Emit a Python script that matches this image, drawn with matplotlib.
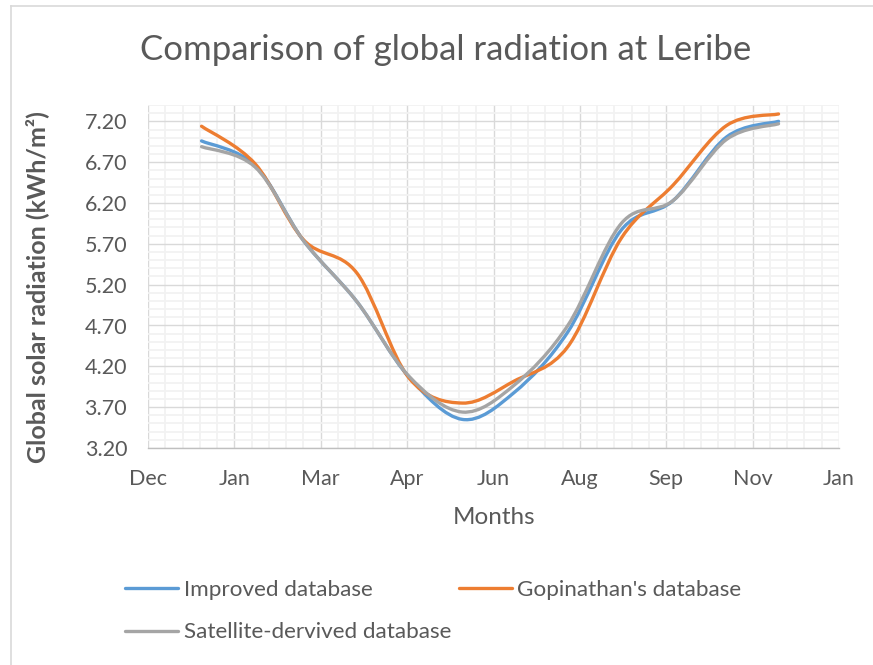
import datetime as dt
import matplotlib
matplotlib.use("Agg")
import matplotlib.pyplot as plt
import matplotlib.dates as mdates
from matplotlib.path import Path
from matplotlib.patches import PathPatch
from matplotlib.lines import Line2D

# ---- data ----
months = [dt.datetime(2021, m, 1) for m in range(1, 13)]
improved = [6.96, 6.66, 5.74, 4.99, 4.07, 3.55, 3.88, 4.62, 5.87, 6.23, 7.01, 7.20]
gopinathan = [7.14, 6.68, 5.75, 5.34, 4.06, 3.75, 4.02, 4.44, 5.77, 6.42, 7.15, 7.29]
satellite = [6.89, 6.64, 5.74, 4.99, 4.08, 3.64, 3.97, 4.70, 5.95, 6.23, 6.98, 7.17]
series_names = ["Improved database", "Gopinathan's database", "Satellite-dervived database"]
colors = ["#5B9BD5", "#ED7D31", "#A5A5A5"]
y_ticks = [3.20, 3.70, 4.20, 4.70, 5.20, 5.70, 6.20, 6.70, 7.20]
axis_start = dt.datetime(2020, 12, 1)
tick_step_days = 50

FONT = "Lato"
TXT = "#595959"

fig = plt.figure(figsize=(8.73, 6.65), dpi=100)
ax = fig.add_axes([148 / 873, 1 - 448 / 665, (839 - 148) / 873, (448 - 105) / 665])

# chart-area border (left and top only visible)
fig.add_artist(Line2D([10.5 / 873, 10.5 / 873], [0, 1 - 6 / 665], transform=fig.transFigure,
                      color="#D9D9D9", lw=1.2))
fig.add_artist(Line2D([10.5 / 873, 1], [1 - 6 / 665, 1 - 6 / 665], transform=fig.transFigure,
                      color="#D9D9D9", lw=1.2))


def smooth_path(xs, ys):
    pts = list(zip(xs, ys))
    n = len(pts)
    verts = [pts[0]]
    codes = [Path.MOVETO]
    for i in range(n - 1):
        p0 = pts[i - 1] if i > 0 else pts[i]
        p1 = pts[i]
        p2 = pts[i + 1]
        p3 = pts[i + 2] if i + 2 < n else pts[i + 1]
        c1 = (p1[0] + (p2[0] - p0[0]) / 6, p1[1] + (p2[1] - p0[1]) / 6)
        c2 = (p2[0] - (p3[0] - p1[0]) / 6, p2[1] - (p3[1] - p1[1]) / 6)
        verts += [c1, c2, p2]
        codes += [Path.CURVE4] * 3
    return Path(verts, codes)


xnum = mdates.date2num(months)
handles = []
for vals, col, name in zip([improved, gopinathan, satellite], colors, series_names):
    patch = PathPatch(smooth_path(xnum, vals), facecolor="none", edgecolor=col, lw=2.4,
                      capstyle="round", joinstyle="round", zorder=3)
    ax.add_patch(patch)
    handles.append(Line2D([], [], color=col, lw=2.4, solid_capstyle="round", label=name))

ticks = [axis_start + dt.timedelta(days=tick_step_days * k) for k in range(9)]
ax.set_xlim(mdates.date2num(ticks[0]), mdates.date2num(ticks[-1]))
ax.set_ylim(3.2, 7.4)
ax.set_xticks(mdates.date2num(ticks))
ax.xaxis.set_major_formatter(mdates.DateFormatter("%b"))
ax.set_xticks([mdates.date2num(axis_start + dt.timedelta(days=10 * k)) for k in range(41)], minor=True)
ax.set_yticks(y_ticks)
ax.set_yticklabels([f"{v:.2f}" for v in y_ticks])
ax.set_yticks([3.2 + 0.1 * k for k in range(43)], minor=True)

ax.grid(which="minor", color="#F2F2F2", lw=1.3, zorder=0)
ax.grid(which="major", color="#D9D9D9", lw=1.0, zorder=1)
ax.set_axisbelow(True)
for s in ["top", "right", "left"]:
    ax.spines[s].set_visible(False)
ax.spines["bottom"].set_color("#BFBFBF")
ax.spines["bottom"].set_linewidth(1.0)
ax.tick_params(which="both", length=0)
ax.tick_params(axis="x", pad=15, labelsize=15.5, labelcolor=TXT)
ax.tick_params(axis="y", pad=15, labelsize=15.5, labelcolor=TXT)
for lab in ax.get_xticklabels() + ax.get_yticklabels():
    lab.set_fontfamily(FONT)

fig.text(446 / 873, 1 - 50 / 665, "Comparison of global radiation at Leribe", ha="center", va="center",
         fontsize=25, color=TXT, family=FONT)
fig.text(494 / 873, 1 - 517 / 665, "Months", ha="center", va="center", fontsize=17.5, color=TXT, family=FONT)
fig.text(37 / 873, 1 - 287 / 665, "Global solar radiation (kWh/m²)", ha="center", va="center",
         rotation=90, fontsize=18, fontweight="bold", color=TXT, family=FONT)

leg = fig.legend([handles[0], handles[2], handles[1]],
                 [series_names[0], series_names[2], series_names[1]],
                 ncol=2, loc="upper left", bbox_to_anchor=(125 / 873, 1 - 580 / 665),
                 frameon=False, handlelength=2.35, handletextpad=0.25, columnspacing=0.35,
                 labelspacing=1.0, borderaxespad=0, borderpad=0,
                 prop={"family": FONT, "size": 16.2})
for t in leg.get_texts():
    t.set_color(TXT)

fig.savefig("out.png", dpi=100)
